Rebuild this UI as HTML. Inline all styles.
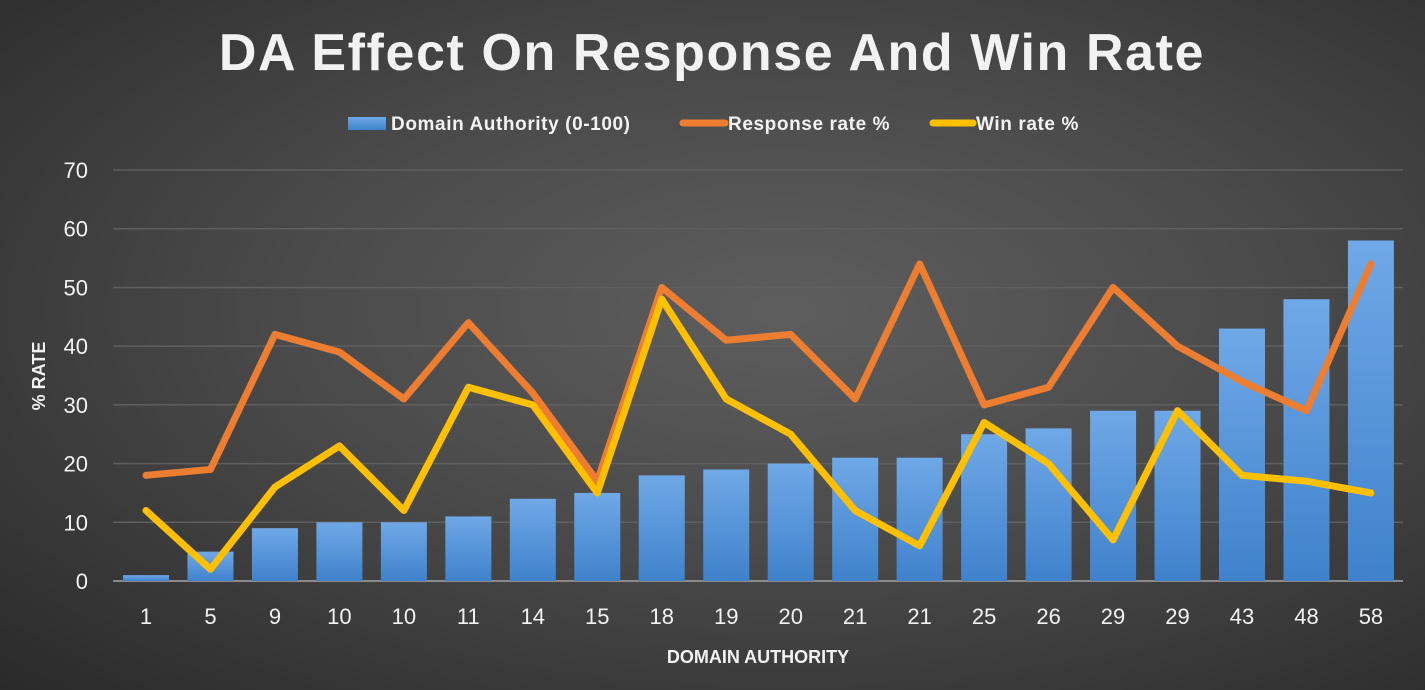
<!DOCTYPE html>
<html><head><meta charset="utf-8"><style>
html,body{margin:0;padding:0;width:1425px;height:690px;overflow:hidden;}
body{background:radial-gradient(ellipse at 55% 45%,#5e5e5e 0%,#4a4a4a 45%,#2a2a2a 100%);font-family:"Liberation Sans",sans-serif;}
</style></head><body>
<svg id="s" width="1425" height="690" xmlns="http://www.w3.org/2000/svg" font-family="Liberation Sans, sans-serif">
<defs><linearGradient id="bg" x1="0" y1="0" x2="0" y2="1"><stop offset="0" stop-color="#6fa8e6"/><stop offset="1" stop-color="#3f82cc"/></linearGradient></defs>
<text x="712" y="70" text-anchor="middle" font-size="52" font-weight="bold" fill="#f2f2f2" letter-spacing="1.6">DA Effect On Response And Win Rate</text>
<rect x="348" y="117" width="38" height="13" fill="url(#bg)"/>
<text x="391" y="130" font-size="19" font-weight="bold" fill="#f2f2f2" letter-spacing="0.6">Domain Authority (0-100)</text>
<line x1="683" y1="123" x2="725" y2="123" stroke="#ed7d31" stroke-width="7" stroke-linecap="round"/>
<text x="728" y="130" font-size="19" font-weight="bold" fill="#f2f2f2" letter-spacing="0.6">Response rate %</text>
<line x1="933" y1="123" x2="973" y2="123" stroke="#ffc000" stroke-width="7" stroke-linecap="round"/>
<text x="976" y="130" font-size="19" font-weight="bold" fill="#f2f2f2" letter-spacing="0.6">Win rate %</text>
<text transform="translate(45,376) rotate(-90)" text-anchor="middle" font-size="18" font-weight="bold" fill="#f2f2f2">% RATE</text>
<text x="758" y="663" text-anchor="middle" font-size="18" font-weight="bold" fill="#f2f2f2">DOMAIN AUTHORITY</text>
<g id="g"></g>
</svg>
<script>
var da=[1,5,9,10,10,11,14,15,18,19,20,21,21,25,26,29,29,43,48,58];
var rr=[18,19,42,39,31,44,32,17,50,41,42,31,54,30,33,50,40,34,29,54];
var wr=[12,2,16,23,12,33,30,15,48,31,25,12,6,27,20,7,29,18,17,15];
function X(i){return 146+i*64.47;}function Y(v){return 581-v*5.871;}
var h='';
for(var k=0;k<=70;k+=10){var y=Y(k);h+='<line x1="113" y1="'+y+'" x2="1403" y2="'+y+'" stroke="'+(k==0?'#8a8a8a':'#5f5f5f')+'" stroke-width="'+(k==0?2:1.5)+'"/>';
h+='<text x="88" y="'+(y+8)+'" text-anchor="end" font-size="22" fill="#f2f2f2">'+k+'</text>';}
for(var i=0;i<20;i++){var y=Y(da[i]);h+='<rect x="'+(X(i)-23)+'" y="'+y+'" width="46" height="'+(581-y)+'" fill="url(#bg)"/>';
h+='<text x="'+X(i)+'" y="624" text-anchor="middle" font-size="22" fill="#f2f2f2">'+da[i]+'</text>';}
function pl(a,c){var p=a.map(function(v,i){return X(i)+','+Y(v);}).join(' ');return '<polyline points="'+p+'" fill="none" stroke="'+c+'" stroke-width="7" stroke-linejoin="round" stroke-linecap="round"/>';}
h+=pl(rr,'#ed7d31')+pl(wr,'#ffc000');
document.getElementById('g').innerHTML=h;
</script>
</body></html>
